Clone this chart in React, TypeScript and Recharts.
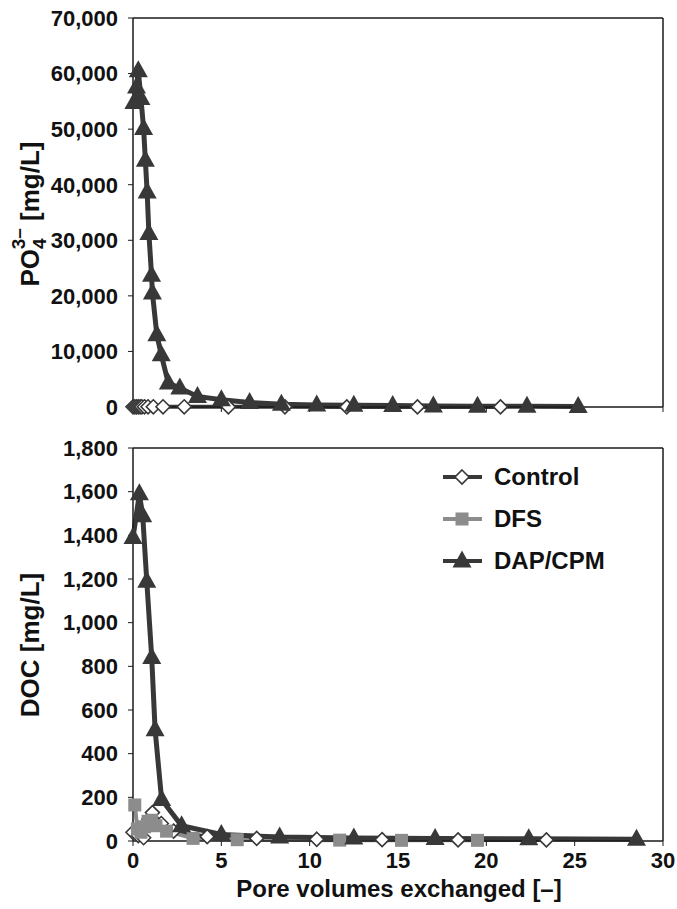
import React from "react";
import { LineChart, Line, XAxis, YAxis, ReferenceLine } from "recharts";

const FONT = "'Liberation Sans', Arial, Helvetica, sans-serif";
const DARK = "#383838";
const GREY = "#8c8c8c";
const AXIS = "#1a1a1a";

const X_TICKS = [0, 5, 10, 15, 20, 25, 30];
const PO4_TICKS = [0, 10000, 20000, 30000, 40000, 50000, 60000, 70000];
const DOC_TICKS = [0, 200, 400, 600, 800, 1000, 1200, 1400, 1600, 1800];

// PO4 panel
const po4ControlX = [0, 0.1, 0.2, 0.3, 0.4, 0.5, 0.65, 0.85, 1.15, 1.7, 2.9, 5.4, 8.6, 12.1, 16.1, 20.8];
const po4ControlY = [40, 40, 40, 40, 40, 40, 40, 40, 40, 40, 40, 30, 30, 20, 20, 20];
const po4DapX = [0.05, 0.2, 0.3, 0.45, 0.6, 0.7, 0.8, 0.9, 1.05, 1.1, 1.35, 1.6, 2.0, 2.65, 3.65, 5.0, 6.6, 8.4, 10.4, 12.5, 14.7, 17.0, 19.5, 22.3, 25.2];
const po4DapY = [54800, 57600, 60500, 55500, 50100, 44400, 38700, 31200, 23700, 20500, 13000, 9400, 4300, 3400, 1900, 1300, 800, 500, 350, 300, 250, 200, 150, 120, 100];

// DOC panel
const docControlX = [0, 0.3, 0.6, 0.9, 1.1, 1.6, 2.3, 4.2, 7.0, 10.4, 14.1, 18.4, 23.4];
const docControlY = [40, 25, 15, 100, 130, 80, 45, 20, 12, 8, 6, 5, 5];
const docDfsX = [0.1, 0.25, 0.45, 0.65, 0.85, 1.05, 1.3, 1.9, 3.4, 5.9, 11.7, 15.2, 19.5];
const docDfsY = [165, 55, 40, 65, 90, 95, 70, 45, 12, 6, 4, 3, 3];
const docDapX = [0, 0.36, 0.55, 0.78, 1.06, 1.25, 1.62, 2.75, 5.0, 8.3, 12.5, 17.1, 22.4, 28.5];
const docDapY = [1390, 1590, 1490, 1190, 840, 510, 190, 70, 30, 18, 14, 12, 10, 8];

const pts = (xs: number[], ys: number[]) => xs.map((x, i) => ({ x, y: ys[i] }));

const fmt = (v: number) => v.toLocaleString("en-US");

const Triangle = (p: any) => {
  const { cx, cy, index } = p;
  if (cx == null || cy == null) return <g key={`t-${index}`} />;
  return <polygon key={`t-${index}`} points={`${cx},${cy - 10.5} ${cx - 9.5},${cy + 6.5} ${cx + 9.5},${cy + 6.5}`} fill={DARK} />;
};
const Diamond = (p: any) => {
  const { cx, cy, index } = p;
  if (cx == null || cy == null) return <g key={`d-${index}`} />;
  return <polygon key={`d-${index}`} points={`${cx},${cy - 7} ${cx + 7},${cy} ${cx},${cy + 7} ${cx - 7},${cy}`} fill="#fff" stroke={DARK} strokeWidth={1.6} />;
};
const Square = (p: any) => {
  const { cx, cy, index } = p;
  if (cx == null || cy == null) return <g key={`s-${index}`} />;
  return <rect key={`s-${index}`} x={cx - 6.5} y={cy - 6.5} width={13} height={13} fill={GREY} />;
};

const tickStyle = { fill: "#111", fontSize: 22, fontWeight: 700, fontFamily: FONT };
const axisLine = { stroke: AXIS, strokeWidth: 1.5 };

const legendItems = [
  { name: "Control", color: DARK, Marker: Diamond },
  { name: "DFS", color: GREY, Marker: Square },
  { name: "DAP/CPM", color: DARK, Marker: Triangle },
];

const ChartLegend = () => (
  <div style={{ position: "absolute", left: 440, top: 456, fontFamily: FONT, fontWeight: 700, fontSize: 24, color: "#111" }}>
    {legendItems.map(({ name, color, Marker }) => (
      <div key={name} style={{ display: "flex", alignItems: "center", height: 42 }}>
        <svg width={48} height={24} style={{ marginRight: 6 }}>
          <line x1={3} y1={12} x2={42} y2={12} stroke={color} strokeWidth={4} />
          <Marker cx={22} cy={12} index={0} />
        </svg>
        <span>{name}</span>
      </div>
    ))}
  </div>
);

export default function App() {
  return (
    <div style={{ position: "absolute", left: 0, top: 0, width: 677, height: 909, background: "#fff" }}>
      <div style={{ position: "absolute", left: 0, top: 0 }}>
        <LineChart width={677} height={430} margin={{ top: 18, right: 14, bottom: 0, left: 0 }}>
          <XAxis type="number" dataKey="x" domain={[0, 30]} ticks={X_TICKS} tick={() => <g />} height={23}
            axisLine={axisLine} tickLine={{ stroke: AXIS }} tickSize={5} />
          <YAxis type="number" dataKey="y" domain={[0, 70000]} ticks={PO4_TICKS} width={133} interval={0}
            tickFormatter={fmt} tick={tickStyle} tickSize={5} tickMargin={10}
            axisLine={axisLine} tickLine={{ stroke: AXIS }}
            label={{
              content: () => (
                <text transform="rotate(-90, 39, 214)" x={39} y={214} textAnchor="middle"
                  fontFamily={FONT} fontWeight={700} fontSize={26} fill="#111">
                  PO<tspan dy={7} fontSize={19}>4</tspan>
                  <tspan dx={-11} dy={-21} fontSize={19}>3–</tspan>
                  <tspan dy={14}> [mg/L]</tspan>
                </text>
              ),
            }} />
          <ReferenceLine y={70000} stroke={AXIS} strokeWidth={1.5} />
          <ReferenceLine x={30} stroke={AXIS} strokeWidth={1.5} />
          <Line data={pts(po4ControlX, po4ControlY)} dataKey="y" stroke={DARK} strokeWidth={4}
            dot={Diamond} isAnimationActive={false} />
          <Line data={pts(po4DapX, po4DapY)} dataKey="y" stroke={DARK} strokeWidth={5}
            dot={Triangle} isAnimationActive={false} />
        </LineChart>
      </div>
      <div style={{ position: "absolute", left: 0, top: 430 }}>
        <LineChart width={677} height={479} margin={{ top: 18, right: 14, bottom: 0, left: 0 }}>
          <XAxis type="number" dataKey="x" domain={[0, 30]} ticks={X_TICKS} height={68} interval={0}
            tick={tickStyle} tickSize={5} tickMargin={6}
            axisLine={axisLine} tickLine={{ stroke: AXIS }}
            label={{
              content: () => (
                <text x={399} y={467} textAnchor="middle" fontFamily={FONT} fontWeight={700}
                  fontSize={24} fill="#111">Pore volumes exchanged [–]</text>
              ),
            }} />
          <YAxis type="number" dataKey="y" domain={[0, 1800]} ticks={DOC_TICKS} width={133} interval={0}
            tickFormatter={fmt} tick={tickStyle} tickSize={5} tickMargin={10}
            axisLine={axisLine} tickLine={{ stroke: AXIS }}
            label={{
              content: () => (
                <text transform="rotate(-90, 39, 215)" x={39} y={215} textAnchor="middle"
                  fontFamily={FONT} fontWeight={700} fontSize={26} fill="#111">DOC [mg/L]</text>
              ),
            }} />
          <ReferenceLine y={1800} stroke={AXIS} strokeWidth={1.5} />
          <ReferenceLine x={30} stroke={AXIS} strokeWidth={1.5} />
          <Line name="Control" data={pts(docControlX, docControlY)} dataKey="y" stroke={DARK} strokeWidth={4}
            dot={Diamond} isAnimationActive={false} />
          <Line name="DFS" data={pts(docDfsX, docDfsY)} dataKey="y" stroke={GREY} strokeWidth={4}
            dot={Square} isAnimationActive={false} />
          <Line name="DAP/CPM" data={pts(docDapX, docDapY)} dataKey="y" stroke={DARK} strokeWidth={5}
            dot={Triangle} isAnimationActive={false} />
        </LineChart>
      </div>
      <ChartLegend />
    </div>
  );
}
